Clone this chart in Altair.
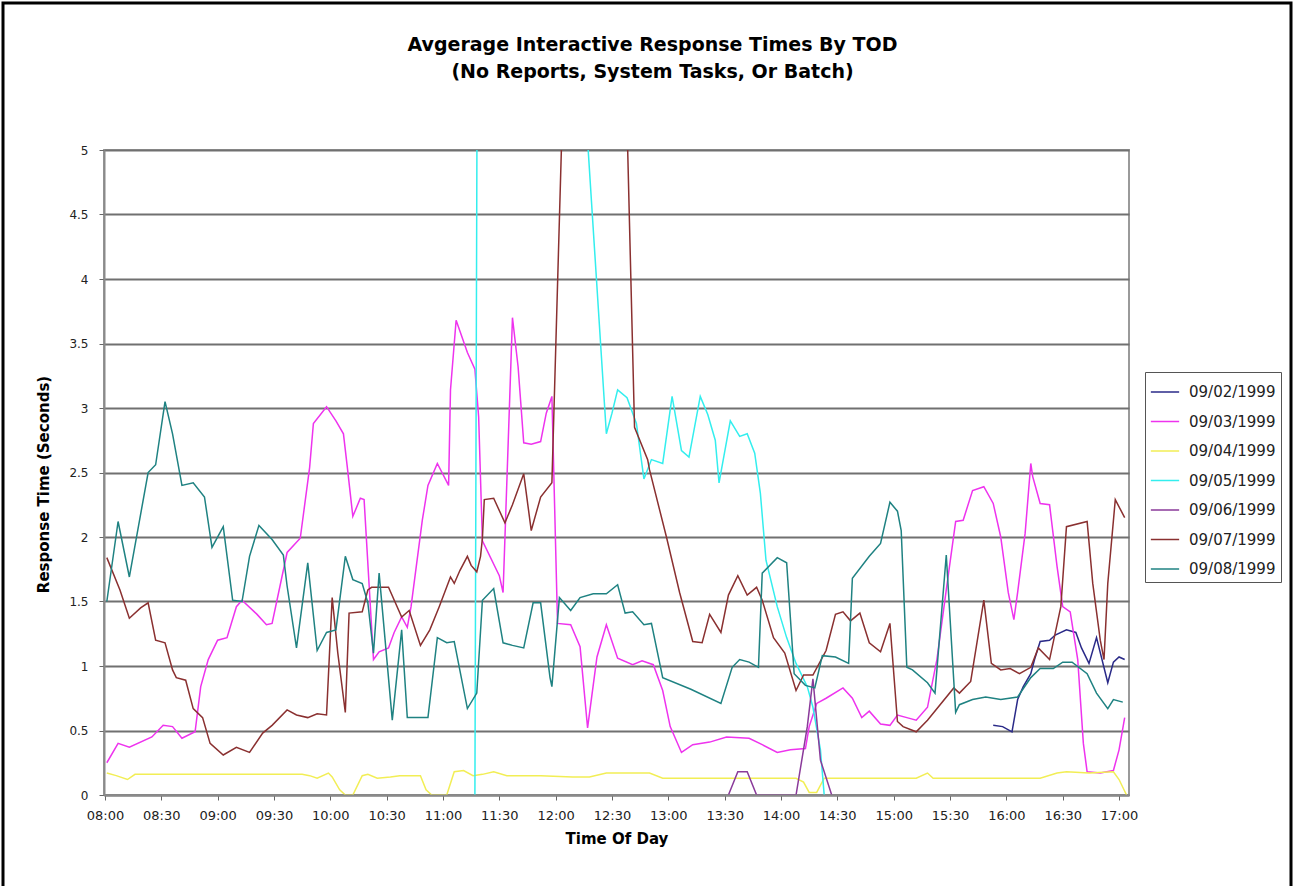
import altair as alt
import pandas as pd

# ---------------- data ----------------
series_names = ["09/02/1999", "09/03/1999", "09/04/1999", "09/05/1999",
                "09/06/1999", "09/07/1999", "09/08/1999"]
series_colors = ["#2a2a88", "#ee33ee", "#f2ee55", "#33eeee",
                 "#8a3a9a", "#8a3030", "#1f8282"]

times_0902 = ["15:53", "15:58", "16:03", "16:06", "16:09", "16:13", "16:15", "16:18", "16:23", "16:26",
              "16:32", "16:37", "16:40", "16:44", "16:48", "16:54", "16:57", "17:00", "17:03"]
vals_0902 = [0.54, 0.53, 0.49, 0.74, 0.84, 0.94, 1.05, 1.19, 1.20, 1.24,
             1.28, 1.26, 1.14, 1.02, 1.22, 0.87, 1.03, 1.07, 1.05]

times_0903 = ["08:01", "08:07", "08:13", "08:25", "08:31", "08:36", "08:41", "08:48", "08:51", "08:55",
              "09:00", "09:05", "09:10", "09:13", "09:21", "09:26", "09:29", "09:37", "09:44", "09:49",
              "09:51", "09:58", "10:03", "10:07", "10:09", "10:12", "10:16", "10:18", "10:23", "10:26",
              "10:31", "10:34", "10:38", "10:41", "10:43", "10:49", "10:52", "10:57", "11:03", "11:04",
              "11:07", "11:13", "11:17", "11:19", "11:21", "11:30", "11:32", "11:37", "11:40", "11:43",
              "11:47", "11:52", "11:55", "11:58", "12:01", "12:08", "12:13", "12:17", "12:22", "12:27",
              "12:33", "12:41", "12:46", "12:52", "12:57", "13:01", "13:07", "13:13", "13:22", "13:31",
              "13:43", "13:50", "13:58", "14:05", "14:13", "14:15", "14:19", "14:24", "14:33", "14:38",
              "14:43", "14:47", "14:53", "14:58", "15:02", "15:07", "15:12", "15:18", "15:23", "15:28",
              "15:33", "15:37", "15:42", "15:48", "15:53", "15:57", "16:01", "16:04", "16:06", "16:10",
              "16:13", "16:14", "16:18", "16:23", "16:27", "16:30", "16:34", "16:38", "16:41", "16:43",
              "16:50", "16:57", "17:00", "17:03"]
vals_0903 = [0.25, 0.40, 0.37, 0.45, 0.54, 0.53, 0.44, 0.49, 0.84, 1.05,
             1.20, 1.22, 1.46, 1.51, 1.40, 1.32, 1.33, 1.88, 1.99, 2.54,
             2.88, 3.01, 2.90, 2.80, 2.55, 2.16, 2.30, 2.29, 1.05, 1.11,
             1.14, 1.26, 1.38, 1.30, 1.46, 2.13, 2.40, 2.57, 2.40, 3.14,
             3.68, 3.43, 3.30, 2.93, 1.97, 1.70, 1.57, 3.70, 3.32, 2.73,
             2.72, 2.74, 2.96, 3.09, 1.33, 1.32, 1.15, 0.52, 1.07, 1.32,
             1.06, 1.01, 1.04, 1.01, 0.81, 0.53, 0.33, 0.39, 0.41, 0.45,
             0.44, 0.39, 0.33, 0.35, 0.36, 0.53, 0.71, 0.75, 0.83, 0.75,
             0.60, 0.65, 0.55, 0.54, 0.62, 0.60, 0.58, 0.68, 1.05, 1.59,
             2.12, 2.13, 2.36, 2.39, 2.26, 2.00, 1.57, 1.36, 1.57, 2.03,
             2.57, 2.47, 2.26, 2.25, 1.77, 1.46, 1.42, 1.05, 0.40, 0.18,
             0.17, 0.19, 0.35, 0.60]

times_0904 = ["08:01", "08:06", "08:12", "08:16", "08:45", "09:15", "09:45", "09:49", "09:53", "09:59",
              "10:01", "10:05", "10:08", "10:12", "10:17", "10:20", "10:25", "10:32", "10:37", "10:48",
              "10:51", "10:54", "11:02", "11:06", "11:11", "11:16", "11:21", "11:27", "11:34", "11:52",
              "12:09", "12:18", "12:27", "12:50", "12:57", "13:17", "13:49", "14:08", "14:12", "14:15",
              "14:19", "14:23", "14:42", "15:12", "15:18", "15:21", "15:57", "16:18", "16:27", "16:32",
              "16:44", "16:57", "17:00", "17:04"]
vals_0904 = [0.17, 0.15, 0.12, 0.16, 0.16, 0.16, 0.16, 0.15, 0.13, 0.17,
             0.14, 0.04, 0.00, 0.00, 0.15, 0.16, 0.13, 0.14, 0.15, 0.15,
             0.04, 0.00, 0.00, 0.18, 0.19, 0.15, 0.16, 0.18, 0.15, 0.15,
             0.14, 0.14, 0.17, 0.17, 0.13, 0.13, 0.13, 0.13, 0.10, 0.02,
             0.02, 0.13, 0.13, 0.13, 0.17, 0.13, 0.13, 0.13, 0.17, 0.18,
             0.17, 0.18, 0.12, 0.00]

times_0905 = ["11:17", "11:20", "11:45", "12:05", "12:16", "12:27", "12:30", "12:33", "12:38", "12:43",
              "12:47", "12:51", "12:57", "13:02", "13:07", "13:11", "13:17", "13:21", "13:25", "13:27",
              "13:33", "13:38", "13:42", "13:46", "13:49", "13:52", "13:58", "14:03", "14:08", "14:14",
              "14:17", "14:21", "14:23"]
vals_0905 = [0.00, 14.0, 11.0, 9.0, 5.3, 2.80, 2.96, 3.14, 3.08, 2.88,
             2.45, 2.60, 2.57, 3.09, 2.67, 2.62, 3.09, 2.95, 2.75, 2.42,
             2.90, 2.78, 2.80, 2.65, 2.34, 1.82, 1.46, 1.22, 1.02, 0.84,
             0.68, 0.35, 0.00]

times_0906 = ["13:32", "13:37", "13:42", "13:47", "14:08", "14:14", "14:17", "14:21", "14:27"]
vals_0906 = [0.00, 0.18, 0.18, 0.00, 0.00, 0.53, 0.90, 0.27, 0.00]

times_0907 = ["08:01", "08:08", "08:13", "08:19", "08:23", "08:27", "08:32", "08:36", "08:38", "08:43",
              "08:47", "08:52", "08:56", "09:03", "09:10", "09:17", "09:24", "09:29", "09:37", "09:42",
              "09:48", "09:53", "09:58", "10:01", "10:04", "10:08", "10:10", "10:17", "10:20", "10:22",
              "10:31", "10:38", "10:42", "10:48", "10:53", "10:58", "11:04", "11:06", "11:09", "11:13",
              "11:15", "11:18", "11:20", "11:21", "11:22", "11:27", "11:33", "11:37", "11:43", "11:47",
              "11:52", "11:58", "12:05", "12:20", "12:37", "12:42", "12:49", "12:50", "12:59", "13:06",
              "13:13", "13:18", "13:22", "13:28", "13:32", "13:37", "13:42", "13:47", "13:50", "13:56",
              "14:02", "14:08", "14:12", "14:17", "14:24", "14:29", "14:33", "14:37", "14:42", "14:47",
              "14:53", "14:58", "15:02", "15:05", "15:12", "15:18", "15:32", "15:35", "15:41", "15:44",
              "15:48", "15:52", "15:57", "16:02", "16:07", "16:13", "16:17", "16:23", "16:29", "16:32",
              "16:43", "16:46", "16:50", "16:52", "16:54", "16:58", "17:03"]
vals_0907 = [1.84, 1.59, 1.37, 1.45, 1.49, 1.20, 1.18, 0.97, 0.91, 0.89,
             0.67, 0.60, 0.40, 0.31, 0.37, 0.33, 0.48, 0.54, 0.66, 0.62,
             0.60, 0.63, 0.62, 1.53, 1.10, 0.64, 1.41, 1.42, 1.59, 1.61,
             1.61, 1.38, 1.43, 1.16, 1.28, 1.46, 1.69, 1.64, 1.74, 1.85,
             1.78, 1.73, 1.85, 1.99, 2.29, 2.30, 2.11, 2.25, 2.49, 2.05,
             2.31, 2.42, 6.0, 7.0, 5.8, 2.85, 2.60, 2.52, 2.00, 1.57,
             1.19, 1.18, 1.40, 1.26, 1.55, 1.70, 1.55, 1.61, 1.51, 1.22,
             1.10, 0.81, 0.93, 0.93, 1.12, 1.40, 1.42, 1.35, 1.41, 1.18,
             1.11, 1.33, 0.57, 0.53, 0.49, 0.58, 0.83, 0.79, 0.88, 1.15,
             1.51, 1.02, 0.97, 0.98, 0.94, 0.99, 1.14, 1.05, 1.46, 2.08,
             2.12, 1.64, 1.20, 1.05, 1.64, 2.29, 2.15]

times_0908 = ["08:01", "08:07", "08:13", "08:23", "08:27", "08:32", "08:36", "08:41", "08:47", "08:53",
              "08:57", "09:03", "09:08", "09:13", "09:17", "09:22", "09:29", "09:35", "09:37", "09:42",
              "09:48", "09:53", "09:58", "10:03", "10:08", "10:12", "10:17", "10:20", "10:23", "10:26",
              "10:33", "10:38", "10:41", "10:52", "10:57", "11:02", "11:06", "11:13", "11:18", "11:21",
              "11:27", "11:32", "11:37", "11:43", "11:48", "11:52", "11:57", "11:58", "12:02", "12:08",
              "12:13", "12:20", "12:27", "12:33", "12:37", "12:41", "12:47", "12:51", "12:57", "13:12",
              "13:28", "13:34", "13:38", "13:43", "13:48", "13:50", "13:58", "14:03", "14:07", "14:13",
              "14:18", "14:22", "14:29", "14:36", "14:38", "14:47", "14:53", "14:58", "15:02", "15:04",
              "15:07", "15:10", "15:18", "15:22", "15:28", "15:33", "15:35", "15:42", "15:49", "15:57",
              "16:06", "16:13", "16:18", "16:25", "16:30", "16:35", "16:43", "16:48", "16:54", "16:57",
              "17:02"]
vals_0908 = [1.50, 2.12, 1.69, 2.50, 2.56, 3.05, 2.80, 2.40, 2.42, 2.31,
             1.92, 2.08, 1.51, 1.50, 1.85, 2.09, 1.98, 1.86, 1.62, 1.14,
             1.80, 1.12, 1.26, 1.28, 1.85, 1.67, 1.64, 1.49, 1.10, 1.72,
             0.58, 1.28, 0.60, 0.60, 1.22, 1.18, 1.19, 0.67, 0.79, 1.51,
             1.60, 1.18, 1.16, 1.14, 1.49, 1.49, 0.91, 0.84, 1.53, 1.43,
             1.53, 1.56, 1.56, 1.63, 1.41, 1.42, 1.32, 1.33, 0.91, 0.82,
             0.71, 0.99, 1.05, 1.03, 0.99, 1.72, 1.84, 1.80, 0.94, 0.85,
             0.83, 1.08, 1.07, 1.02, 1.68, 1.85, 1.95, 2.27, 2.20, 2.05,
             0.99, 0.97, 0.87, 0.79, 1.86, 0.64, 0.70, 0.74, 0.76, 0.74,
             0.76, 0.91, 0.98, 0.98, 1.03, 1.03, 0.94, 0.79, 0.67, 0.74,
             0.72]

x_tick_minutes = list(range(0, 541, 30))          # 08:00 .. 17:00
y_tick_values = [0, 0.5, 1, 1.5, 2, 2.5, 3, 3.5, 4, 4.5, 5]

title_lines = ["Avgerage Interactive Response Times By TOD",
               "(No Reports, System Tasks, Or Batch)"]

# ---------------- build table ----------------
all_series = [
    (series_names[0], times_0902, vals_0902),
    (series_names[1], times_0903, vals_0903),
    (series_names[2], times_0904, vals_0904),
    (series_names[3], times_0905, vals_0905),
    (series_names[4], times_0906, vals_0906),
    (series_names[5], times_0907, vals_0907),
    (series_names[6], times_0908, vals_0908),
]
rows = []
for name, times, vals in all_series:
    for t, v in zip(times, vals):
        h, m = t.split(":")
        rows.append({"Series": name, "minute": (int(h) - 8) * 60 + int(m), "value": v})
df = pd.DataFrame(rows)

FONT = "DejaVu Sans"

lines = alt.Chart(df).mark_line(strokeWidth=1.5, clip=True).encode(
    x=alt.X("minute:Q",
            scale=alt.Scale(domain=[-0.5, 545.3], nice=False, zero=False),
            axis=alt.Axis(values=x_tick_minutes,
                          labelExpr="timeFormat(datetime(2000, 0, 1, 8, datum.value, 0), '%H:%M')",
                          title="Time Of Day", titleY=43, titleBaseline="middle",
                          grid=False, tickSize=5, labelPadding=9, zindex=1,
                          labelFlush=False, labelOverlap=False,
                          domainColor="#8a8a8a", domainWidth=2, tickColor="#666666",
                          labelFont=FONT, labelFontSize=13, labelColor="#222222",
                          titleFont=FONT, titleFontSize=15, titleFontWeight="bold",
                          titleColor="#000000")),
    y=alt.Y("value:Q",
            scale=alt.Scale(domain=[0, 5], nice=False, zero=True),
            axis=alt.Axis(values=y_tick_values, labelExpr="'' + datum.value",
                          title="Response Time (Seconds)",
                          titleX=-61, titleY=334, titleAngle=270,
                          titleAlign="center", titleBaseline="middle",
                          grid=True, gridColor="#707070", gridWidth=2,
                          tickSize=5, labelPadding=11, labelFlush=False,
                          domainColor="#8a8a8a", domainWidth=2, tickColor="#666666",
                          labelFont=FONT, labelFontSize=12, labelColor="#222222",
                          titleFont=FONT, titleFontSize=15, titleFontWeight="bold",
                          titleColor="#000000")),
    color=alt.Color("Series:N",
                    scale=alt.Scale(domain=series_names, range=series_colors),
                    legend=alt.Legend(orient="none", legendX=1041, legendY=222,
                                      title=None, symbolType="stroke",
                                      symbolSize=800, symbolStrokeWidth=1.5,
                                      labelFont=FONT, labelFontSize=15,
                                      labelColor="#222222",
                                      strokeColor="#555555", fillColor="white",
                                      padding=5, rowPadding=6.5, labelOffset=9)),
    order=alt.Order("minute:Q"),
)

frame = alt.Chart(pd.DataFrame({"k": [0]})).mark_rect(
    filled=False, stroke="black", strokeWidth=3
).encode(x=alt.value(-101), x2=alt.value(1187), y=alt.value(-147), y2=alt.value(800))

chart = alt.layer(frame, lines).properties(
    width=1025, height=645,
    padding={"left": 104, "top": 150, "right": 166, "bottom": 91},
    autosize=alt.AutoSizeParams(type="none"),
    title=alt.TitleParams(text=title_lines, anchor="middle", frame="group",
                          font=FONT, fontSize=19, fontWeight="bold",
                          color="#000000", lineHeight=27, offset=-80, dx=36),
    background="white",
).configure_view(stroke="#9a9a9a", strokeWidth=2)

chart.save("out.html", embed_options={"renderer": "svg", "actions": False})
